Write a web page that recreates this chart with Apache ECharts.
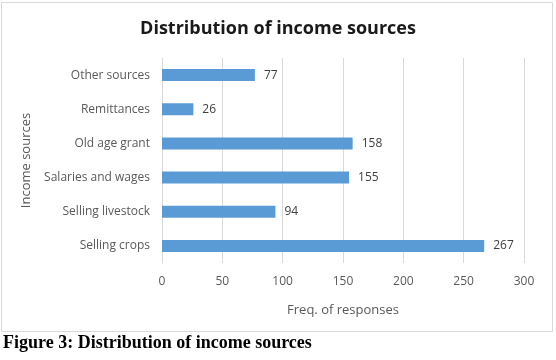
<!DOCTYPE html>
<html><head><meta charset="utf-8">
<script src="https://cdn.jsdelivr.net/npm/echarts@6/dist/echarts.min.js"></script>
<style>html,body{margin:0;padding:0;background:#fff}#c{width:556px;height:360px}</style>
</head><body><div id="c"></div>
<script>
const categories = ["Selling crops","Selling livestock","Salaries and wages","Old age grant","Remittances","Other sources"];
const values = [267, 94, 155, 158, 26, 77];
const xTicks = [0, 50, 100, 150, 200, 250, 300];
const chart = echarts.init(document.getElementById('c'));
chart.setOption({
  animation:false,
  backgroundColor:'#fff',
  title:{text:'Distribution of income sources',left:'center',top:15,
    textStyle:{fontFamily:'Open Sans',fontWeight:'bold',fontSize:18,color:'#1a1a1a'}},
  grid:{left:162,right:32,top:58,bottom:97},
  xAxis:{type:'value',min:xTicks[0],max:xTicks[xTicks.length-1],interval:50,
    name:'Freq. of responses',nameLocation:'middle',nameGap:41,
    nameTextStyle:{fontFamily:'Open Sans',fontSize:13,color:'#595959'},
    axisLine:{show:false},axisTick:{show:false},
    axisLabel:{fontFamily:'Open Sans',fontSize:12,color:'#595959',margin:13},
    splitLine:{lineStyle:{color:'#d9d9d9'}}},
  yAxis:{type:'category',data:categories,
    name:'Income sources',nameLocation:'middle',nameGap:116,nameRotate:90,
    nameTextStyle:{fontFamily:'Open Sans',fontSize:13,color:'#595959'},
    axisLine:{lineStyle:{color:'#d9d9d9'}},axisTick:{show:false},
    axisLabel:{fontFamily:'Open Sans',fontSize:12,color:'#595959',margin:12}},
  series:[{type:'bar',data:values,barWidth:12,
    itemStyle:{color:'#5b9bd5'},
    label:{show:true,position:'right',distance:9,fontFamily:'Open Sans',fontSize:12,color:'#404040'}}],
  graphic:[
    {type:'rect',shape:{x:1.5,y:2.5,width:551,height:329},style:{fill:null,stroke:'#d9d9d9',lineWidth:1},silent:true},
    {type:'text',left:3,top:334,style:{text:'Figure 3: Distribution of income sources',font:'bold 18px "Liberation Serif"',fill:'#000'}}
  ]
});
</script></body></html>
